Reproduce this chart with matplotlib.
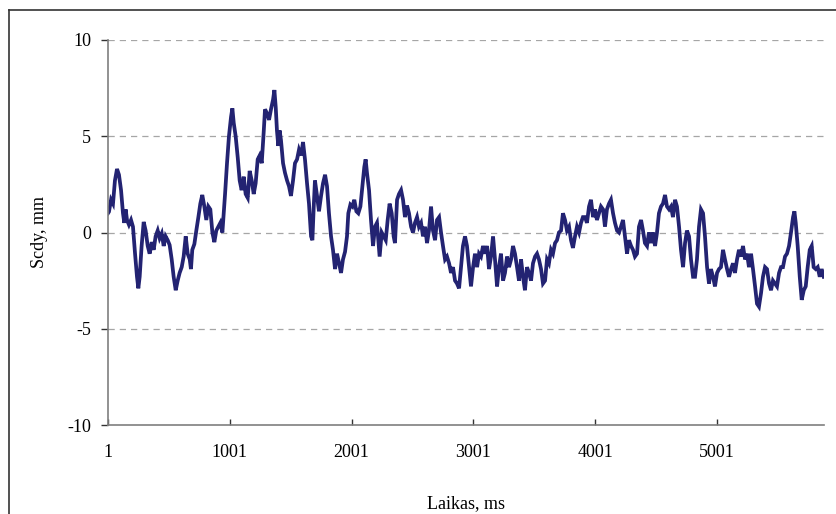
import matplotlib
matplotlib.use("Agg")
import matplotlib.pyplot as plt
from matplotlib.lines import Line2D

plt.rcParams['font.family'] = ['Liberation Serif', 'DejaVu Serif']

# sampled trace: time (ms) and displacement (mm)
t_ms = [1, 9, 26, 42, 58, 75, 91, 108, 124, 135, 146, 157, 173, 190, 206, 223, 239, 250, 261, 277,
        294, 310, 327, 343, 360, 376, 392, 409, 425, 442, 458, 474, 491, 507, 524, 540, 557, 573, 589, 606,
        622, 639, 655, 672, 682, 693, 710, 726, 743, 759, 775, 792, 808, 825, 841, 858, 874, 890, 907, 923,
        940, 951, 962, 978, 994, 1011, 1022, 1033, 1049, 1066, 1082, 1098, 1115, 1131, 1148, 1164, 1181, 1197, 1213, 1230,
        1246, 1263, 1279, 1290, 1306, 1323, 1339, 1356, 1367, 1378, 1388, 1399, 1410, 1421, 1438, 1454, 1471, 1487, 1503, 1520,
        1536, 1553, 1569, 1586, 1602, 1618, 1635, 1651, 1668, 1679, 1690, 1700, 1717, 1733, 1750, 1766, 1783, 1799, 1815, 1832,
        1848, 1865, 1881, 1898, 1914, 1930, 1947, 1963, 1974, 1991, 2007, 2023, 2040, 2056, 2073, 2089, 2105, 2116, 2127, 2144,
        2160, 2177, 2193, 2209, 2220, 2231, 2248, 2264, 2281, 2297, 2313, 2330, 2346, 2357, 2374, 2390, 2407, 2423, 2439, 2456,
        2472, 2489, 2505, 2521, 2538, 2554, 2571, 2587, 2604, 2620, 2636, 2653, 2669, 2686, 2702, 2719, 2735, 2751, 2768, 2784,
        2801, 2817, 2833, 2850, 2866, 2883, 2899, 2915, 2932, 2948, 2965, 2981, 2998, 3014, 3031, 3047, 3063, 3080, 3096, 3113,
        3129, 3145, 3162, 3178, 3195, 3211, 3227, 3244, 3260, 3277, 3293, 3310, 3326, 3342, 3359, 3375, 3392, 3408, 3424, 3441,
        3457, 3474, 3490, 3507, 3523, 3539, 3556, 3572, 3589, 3605, 3621, 3638, 3654, 3671, 3687, 3703, 3720, 3736, 3753, 3769,
        3786, 3802, 3818, 3835, 3851, 3868, 3884, 3900, 3917, 3933, 3950, 3966, 3983, 3999, 4015, 4032, 4048, 4065, 4081, 4097,
        4114, 4130, 4147, 4163, 4180, 4196, 4212, 4229, 4245, 4262, 4278, 4295, 4311, 4327, 4344, 4360, 4377, 4393, 4409, 4426,
        4442, 4459, 4475, 4492, 4508, 4524, 4541, 4557, 4574, 4590, 4607, 4623, 4639, 4656, 4672, 4689, 4705, 4722, 4738, 4754,
        4771, 4787, 4804, 4820, 4836, 4853, 4869, 4886, 4902, 4919, 4935, 4951, 4968, 4984, 5001, 5017, 5033, 5050, 5066, 5083,
        5099, 5116, 5132, 5148, 5165, 5181, 5198, 5214, 5231, 5247, 5263, 5280, 5296, 5313, 5329, 5345, 5362, 5378, 5395, 5411,
        5428, 5444, 5460, 5477, 5493, 5510, 5526, 5542, 5559, 5575, 5592, 5608, 5625, 5636, 5647, 5663, 5680, 5696, 5713, 5729,
        5745, 5762, 5778, 5794, 5811, 5827, 5844, 5860, 5877]
scdy = [1.0, 1.08, 1.7, 1.5, 2.7, 3.3, 3.0, 2.2, 1.0, 0.5, 1.2, 0.65, 0.4, 0.65, 0.3, -1.1, -2.3, -2.9, -2.3, -0.7,
        0.55, 0.1, -0.7, -1.1, -0.5, -0.9, -0.2, 0.1, -0.3, -0.05, -0.7, -0.2, -0.4, -0.65, -1.4, -2.3, -3.0, -2.5, -2.1, -1.8,
        -1.25, -0.2, -1.1, -1.4, -1.9, -0.9, -0.6, 0.1, 0.8, 1.5, 1.95, 1.35, 0.65, 1.35, 1.2, 0.0, -0.5, 0.1, 0.3, 0.5,
        0.0, 1.0, 2.0, 3.6, 5.0, 6.0, 6.45, 5.7, 5.0, 3.9, 2.7, 2.2, 2.9, 2.0, 1.8, 3.2, 2.7, 2.0, 2.55, 3.8,
        4.0, 3.6, 5.2, 6.4, 6.2, 5.85, 6.4, 6.9, 7.4, 6.5, 5.3, 4.5, 5.3, 4.8, 3.6, 3.1, 2.7, 2.4, 1.9, 2.7,
        3.6, 3.8, 4.3, 4.0, 4.7, 3.8, 2.55, 1.5, -0.2, -0.4, 1.35, 2.7, 1.9, 1.1, 1.9, 2.55, 3.0, 2.4, 1.0, -0.2,
        -0.9, -1.9, -1.1, -1.6, -2.1, -1.4, -1.0, -0.2, 1.0, 1.45, 1.35, 1.7, 1.1, 1.0, 1.35, 2.4, 3.4, 3.8, 3.1, 2.2,
        0.65, -0.7, 0.3, 0.5, -0.4, -1.25, 0.0, -0.2, -0.4, 0.65, 1.5, 1.0, -0.2, -0.55, 1.7, 2.0, 2.2, 1.7, 0.8, 1.4,
        1.0, 0.3, 0.0, 0.5, 0.8, 0.3, 0.5, -0.2, 0.3, -0.55, 0.1, 1.35, 0.1, -0.4, 0.65, 0.8, 0.0, -0.7, -1.4, -1.25,
        -1.6, -2.1, -1.8, -2.5, -2.65, -2.9, -1.8, -0.7, -0.2, -0.7, -1.8, -2.8, -1.8, -1.1, -1.8, -1.1, -1.25, -0.7, -1.1, -0.7,
        -1.9, -1.25, -0.2, -1.4, -2.8, -1.8, -1.1, -2.5, -2.1, -1.25, -1.8, -1.4, -0.7, -1.1, -1.8, -2.5, -1.4, -2.3, -3.0, -1.8,
        -2.1, -2.5, -1.6, -1.25, -1.1, -1.4, -1.9, -2.65, -2.5, -1.4, -1.6, -0.9, -1.1, -0.55, -0.4, 0.0, 0.1, 1.0, 0.65, 0.1,
        0.3, -0.4, -0.8, -0.2, 0.3, 0.0, 0.5, 0.8, 0.8, 0.5, 1.35, 1.7, 0.8, 1.2, 0.65, 1.0, 1.35, 1.2, 0.3, 1.2,
        1.5, 1.7, 1.0, 0.5, 0.1, 0.0, 0.3, 0.65, -0.2, -1.1, -0.4, -0.7, -0.9, -1.25, -1.1, 0.3, 0.65, 0.1, -0.55, -0.7,
        0.0, -0.55, 0.0, -0.7, 0.0, 1.0, 1.35, 1.5, 1.95, 1.35, 1.2, 1.35, 0.8, 1.7, 1.35, 0.3, -0.9, -1.8, -0.55, 0.1,
        -0.2, -1.4, -2.3, -2.3, -1.4, 0.3, 1.2, 1.0, -0.2, -1.8, -2.65, -1.9, -2.3, -2.8, -2.1, -1.9, -1.8, -0.9, -1.4, -1.9,
        -2.3, -1.9, -1.6, -2.1, -1.4, -0.9, -1.25, -0.7, -1.4, -1.1, -1.8, -1.1, -1.9, -2.8, -3.7, -3.85, -3.15, -2.3, -1.8, -1.9,
        -2.65, -3.0, -2.5, -2.65, -2.8, -2.1, -1.8, -1.8, -1.25, -1.1, -0.7, 0.0, 0.8, 1.1, 0.5, -0.7, -2.3, -3.5, -3.0, -2.8,
        -1.8, -0.9, -0.7, -1.8, -1.9, -1.8, -2.3, -1.9, -2.3]

x_ticks = [1, 1001, 2001, 3001, 4001, 5001]
y_ticks = [-10, -5, 0, 5, 10]

fig = plt.figure(figsize=(8.36, 5.14), dpi=100)
ax = fig.add_axes([108 / 836, 1 - 425 / 514, 716 / 836, 385 / 514])

ax.plot(t_ms, scdy, color='#232372', lw=2.7, solid_joinstyle='miter')

ax.set_xlim(1, 5879)
ax.set_ylim(-10, 10)
ax.set_xticks(x_ticks)
ax.set_yticks(y_ticks)
ax.set_xticklabels([str(v) for v in x_ticks])
ax.set_yticklabels([str(v) for v in y_ticks])

for v in y_ticks[1:]:
    ax.axhline(v, color='#a6a6a6', lw=0.9, dashes=(5, 4), zorder=0)

for side in ('top', 'right'):
    ax.spines[side].set_visible(False)
for side in ('left', 'bottom'):
    ax.spines[side].set_color('#7f7f7f')
    ax.spines[side].set_linewidth(1.2)

ax.tick_params(axis='y', direction='out', length=5, width=1, color='#333333',
               labelsize=13, pad=7)
ax.tick_params(axis='x', direction='in', length=4, width=1, color='#333333',
               labelsize=13, pad=14)

ax.set_ylabel('Scdy, mm', fontsize=13, labelpad=14)
fig.text(466 / 836, 1 - 504 / 514, 'Laikas, ms', ha='center', va='center', fontsize=13)

# chart area border
fig.add_artist(Line2D([9 / 836, 9 / 836], [0, 1 - 10 / 514], transform=fig.transFigure,
                      color='#333333', lw=1.2))
fig.add_artist(Line2D([9 / 836, 1], [1 - 10 / 514, 1 - 10 / 514], transform=fig.transFigure,
                      color='#333333', lw=1.2))

fig.savefig('out.png', dpi=100)
